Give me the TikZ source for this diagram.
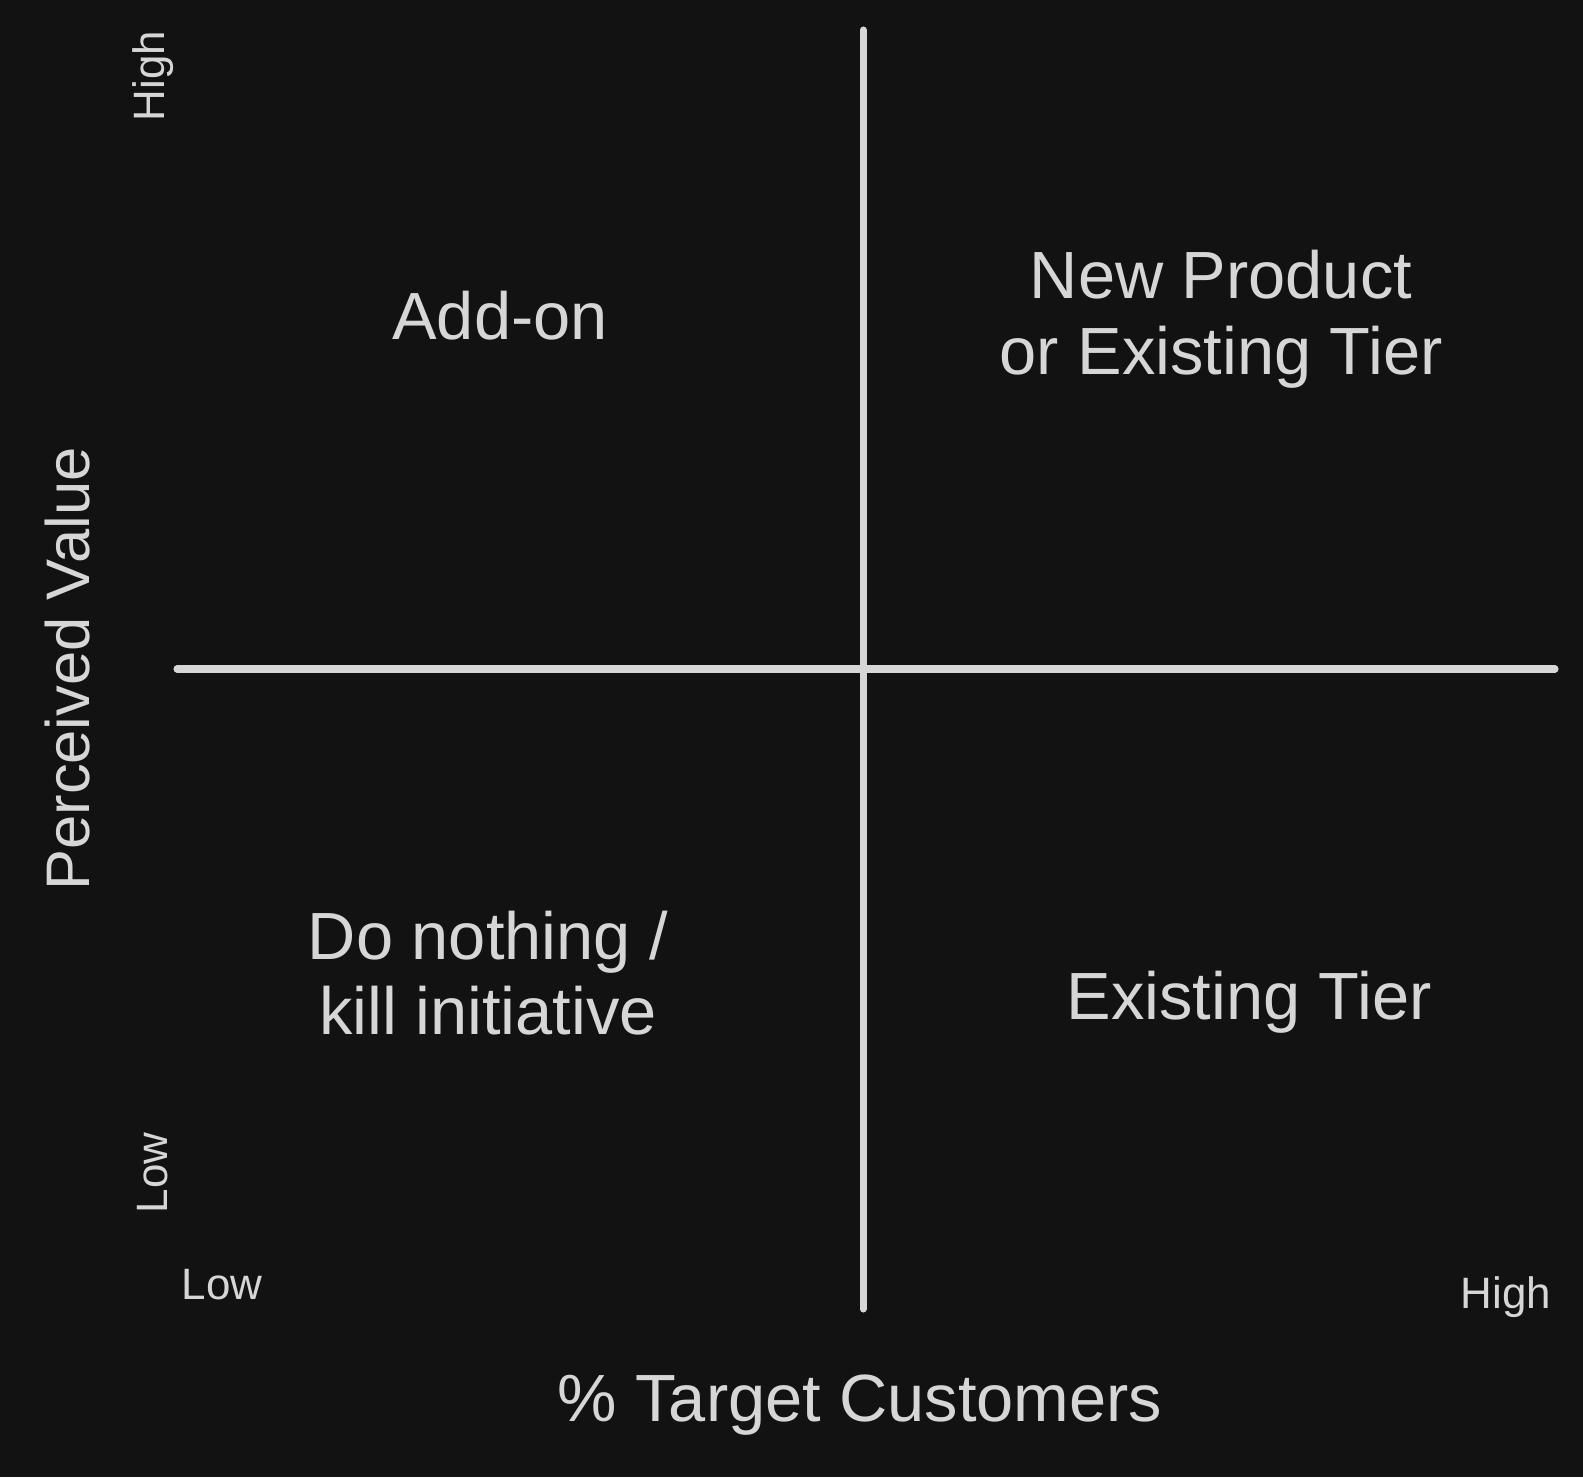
\documentclass[tikz,border=0pt]{standalone}
\usepackage{fontspec}
\setmainfont{Liberation Sans}
\definecolor{bg}{HTML}{121212}
\definecolor{ink}{HTML}{D6D6D6}
\begin{document}
\begin{tikzpicture}[axis/.style={ink, line width=2pt, line cap=round},
	big/.style={ink, font=\fontsize{19}{21.5}\selectfont, align=center},
	small/.style={ink, font=\fontsize{12.5}{15}\selectfont}]
	\fill[bg] (0,0) rectangle (15.83,14.77);
	\coordinate (top) at (8.63,14.47);
	\coordinate (bottom) at (8.63,1.68);
	\coordinate (left) at (1.77,8.08);
	\coordinate (right) at (15.55,8.08);
	\draw[axis] (top) -- (bottom);
	\draw[axis] (left) -- (right);
	\node[big] (addon) at (5.00,11.61) {Add-on};
	\node[big] (newprod) at (12.21,11.58) {New Product\\or Existing Tier};
	\node[big] (nothing) at (4.88,5.04) {Do nothing /\\kill initiative};
	\node[big] (existing) at (12.49,4.75) {Existing Tier};
	\node[big] (xtitle) at (8.60,0.72) {\% Target Customers};
	\node[big, font=\fontsize{17.5}{21}\selectfont, rotate=90] (ytitle) at (0.68,8.08) {Perceived Value};
	\node[small, rotate=90] (yhigh) at (1.53,14.01) {High};
	\node[small, rotate=90] (ylow) at (1.53,3.04) {Low};
	\node[small] (xlow) at (2.22,1.92) {Low};
	\node[small] (xhigh) at (15.06,1.80) {High};
\end{tikzpicture}
\end{document}
